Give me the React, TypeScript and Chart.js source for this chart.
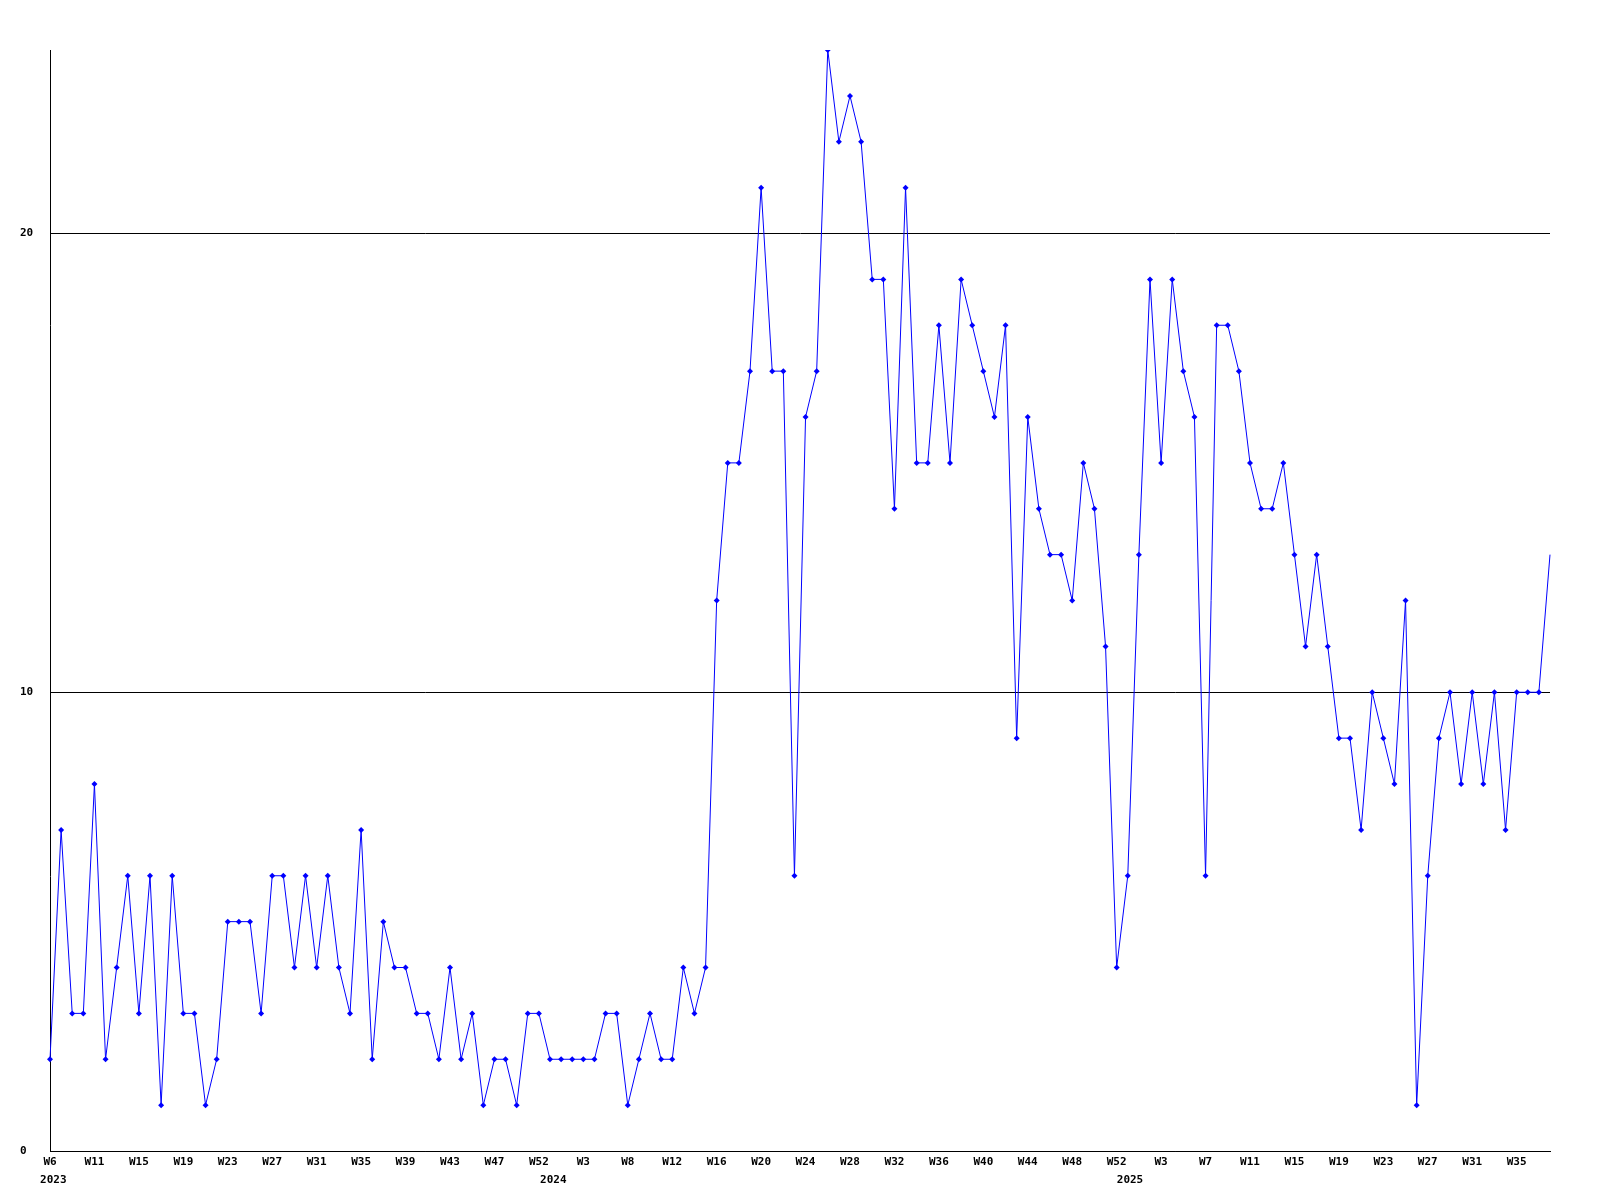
import { useEffect, useRef } from "react";
import { Chart, registerables } from "chart.js";

Chart.register(...registerables);

// Week tick labels, one every 4th weekly point
const weekTickLabels = [
  "W6", "W11", "W15", "W19", "W23", "W27", "W31", "W35", "W39", "W43", "W47", "W52",
  "W3", "W8", "W12", "W16", "W20", "W24", "W28", "W32", "W36", "W40", "W44", "W48", "W52",
  "W3", "W7", "W11", "W15", "W19", "W23", "W27", "W31", "W35",
];

const yearLabels = ["2023", "2024", "2025"];
const yearTickPoints = [0.3, 45.3, 97.2];

const yTickValues = [0, 10, 20];

// Weekly values
const values = [
  2, 7, 3, 3, 8, 2, 4, 6, 3, 6, 1, 6, 3, 3, 1, 2, 5, 5, 5, 3, 6, 6, 4, 6, 4, 6, 4, 3, 7, 2, 5, 4,
  4, 3, 3, 2, 4, 2, 3, 1, 2, 2, 1, 3, 3, 2, 2, 2, 2, 2, 3, 3, 1, 2, 3, 2, 2, 4, 3, 4,
  12, 15, 15, 17, 21, 17, 17, 6, 16, 17,
  24, 22, 23, 22, 19, 19, 14, 21, 15, 15,
  18, 15, 19, 18, 17, 16, 18, 9, 16, 14,
  13, 13, 12, 15, 14, 11, 4, 6, 13, 19,
  15, 19, 17, 16, 6, 18, 18, 17, 15, 14,
  14, 15, 13, 11, 13, 11, 9, 9, 7, 10,
  9, 8, 12, 1, 6, 9, 10, 8, 10, 8,
  10, 7, 10, 10, 10, 13,
];

const FONT = { family: "'DejaVu Sans Mono', monospace", size: 11, weight: "bold" as const };

export default function App() {
  const ref = useRef<HTMLCanvasElement>(null);

  useEffect(() => {
    document.body.style.margin = "0";
    const labels = values.map((_, i) => (i % 4 === 0 ? weekTickLabels[i / 4] ?? "" : ""));
    const last = values.length - 1;
    const chart = new Chart(ref.current!, {
      type: "line",
      data: {
        labels,
        datasets: [
          {
            data: values,
            borderColor: "#0000ff",
            borderWidth: 1,
            tension: 0,
            fill: false,
            pointStyle: "rectRot",
            pointRadius: (ctx: any) => (ctx.dataIndex === last ? 0 : 3),
            pointBackgroundColor: "#0000ff",
            pointBorderColor: "#0000ff",
            pointBorderWidth: 0,
          },
        ],
      },
      options: {
        responsive: false,
        animation: false,
        layout: { padding: { left: 20, top: 50, right: 50, bottom: 0 } },
        plugins: { legend: { display: false }, tooltip: { enabled: false } },
        scales: {
          x: {
            type: "category",
            offset: false,
            weight: 0,
            grid: { display: false, drawTicks: false },
            border: { display: true, color: "#000", width: 1 },
            ticks: { autoSkip: false, maxRotation: 0, minRotation: 0, padding: 5, color: "#000", font: FONT },
            afterFit: (s: any) => {
              s.height = 18;
            },
          },
          x2: {
            type: "linear",
            position: "bottom",
            weight: 1,
            min: 0,
            max: values.length - 1,
            grid: { display: false, drawTicks: false },
            border: { display: false },
            afterBuildTicks: (s: any) => {
              s.ticks = yearTickPoints.map((v) => ({ value: v }));
            },
            ticks: {
              autoSkip: false,
              maxRotation: 0,
              minRotation: 0,
              padding: 5,
              color: "#000",
              font: FONT,
              callback: (_v: any, i: number) => yearLabels[i],
            },
            afterFit: (s: any) => {
              s.height = 31;
            },
          },
          y: {
            min: 0,
            max: 24,
            afterBuildTicks: (s: any) => {
              s.ticks = yTickValues.map((v) => ({ value: v }));
            },
            ticks: { crossAlign: "far", padding: 0, color: "#000", font: FONT },
            grid: { color: "#000", lineWidth: 1, drawTicks: false },
            border: { display: true, color: "#000", width: 1 },
            afterFit: (s: any) => {
              s.width = 30;
            },
          },
        },
      },
    } as any);
    return () => chart.destroy();
  }, []);

  return (
    <div style={{ position: "fixed", left: 0, top: 0, width: 1600, height: 1200, background: "#fff" }}>
      <canvas ref={ref} width={1600} height={1200} />
    </div>
  );
}
